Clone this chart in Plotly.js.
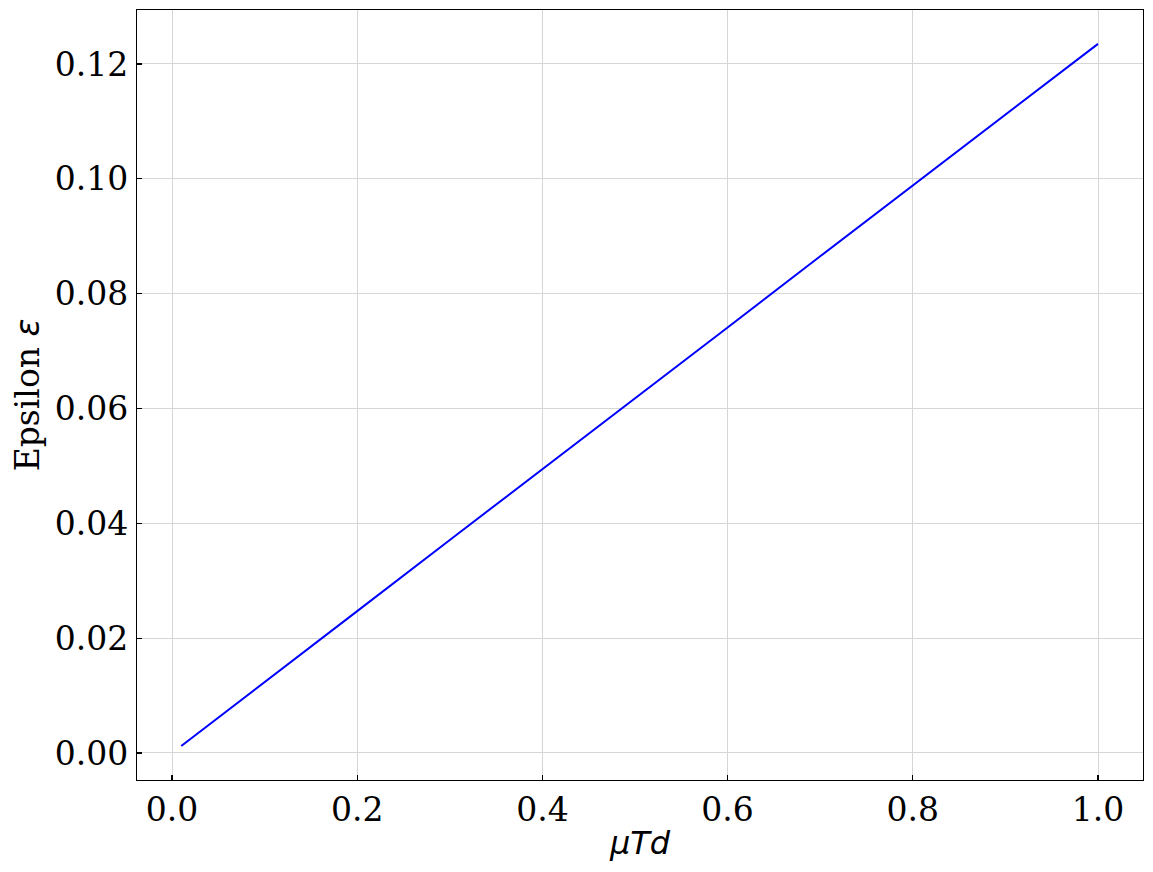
<!DOCTYPE html>
<html>
<head>
<meta charset="utf-8">
<script src="https://cdn.plot.ly/plotly-3.0.1.min.js"></script>
<style>html,body{margin:0;padding:0;background:#fff;}#chart{width:1153px;height:872px;}</style>
</head>
<body>
<div id="chart"></div>
<script>
const muTd = [0.01, 0.1, 0.2, 0.3, 0.4, 0.5, 0.6, 0.7, 0.8, 0.9, 1.0];
const epsilon = [0.0012, 0.0124, 0.0247, 0.0371, 0.0494, 0.0618, 0.0741, 0.0865, 0.0988, 0.1112, 0.1235];
const xTicks = [0.0, 0.2, 0.4, 0.6, 0.8, 1.0];
const xTickText = ['0.0', '0.2', '0.4', '0.6', '0.8', '1.0'];
const yTicks = [0.00, 0.02, 0.04, 0.06, 0.08, 0.10, 0.12];
const yTickText = ['0.00', '0.02', '0.04', '0.06', '0.08', '0.10', '0.12'];

const serif = 'DejaVu Serif, serif';
const trace = {
  x: muTd, y: epsilon, type: 'scatter', mode: 'lines',
  line: {color: '#0000ff', width: 2}, showlegend: false, hoverinfo: 'skip'
};
const axisCommon = {
  showline: true, mirror: true, linecolor: '#000', linewidth: 1.2,
  ticks: 'inside', ticklen: 5, tickwidth: 1.1, tickcolor: '#000',
  showgrid: true, gridcolor: '#d6d6d6', gridwidth: 1,
  zeroline: false, tickfont: {family: serif, size: 33, color: '#000'}
};
const layout = {
  width: 1153, height: 872,
  margin: {l: 137, r: 10, t: 10, b: 92},
  paper_bgcolor: '#fff', plot_bgcolor: '#fff',
  xaxis: Object.assign({}, axisCommon, {
    range: [-0.0378, 1.0486], tickmode: 'array', tickvals: xTicks, ticktext: xTickText,
    ticklabelstandoff: 0,
    title: {text: '<i>μTd</i>', font: {family: 'DejaVu Sans, sans-serif', size: 32, color: '#000'}, standoff: 3}
  }),
  yaxis: Object.assign({}, axisCommon, {
    range: [-0.00471, 0.1294], tickmode: 'array', tickvals: yTicks, ticktext: yTickText,
    ticklabelstandoff: 1,
    title: {text: 'Epsilon <span style="font-family:DejaVu Sans"><i>ε</i></span>', font: {family: serif, size: 33, color: '#000'}, standoff: 5}
  })
};
Plotly.newPlot('chart', [trace], layout, {displayModeBar: false, staticPlot: true});
</script>
</body>
</html>
